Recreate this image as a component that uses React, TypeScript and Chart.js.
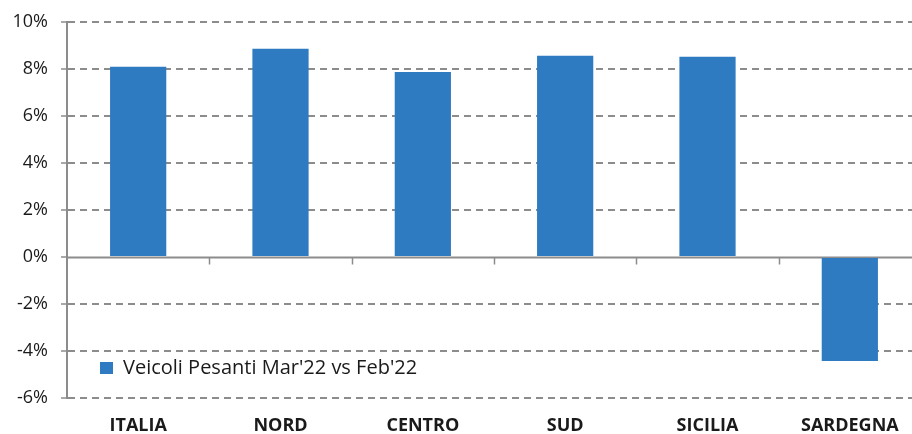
import React, { useEffect, useRef } from "react";
import { Chart, registerables } from "chart.js";

Chart.register(...registerables);

const categories = ["ITALIA", "NORD", "CENTRO", "SUD", "SICILIA", "SARDEGNA"];
const seriesLabel = "Veicoli Pesanti Mar'22 vs Feb'22";
const seriesValues = [8.1, 8.86, 7.87, 8.56, 8.52, -4.43];
const yMin = -6;
const yMax = 10;
const yStep = 2;

const BAR = "#2F7BC1";
const GRID = "#8C8C8C";
const TEXT = "#1a1a1a";
const FONT = "'Open Sans', 'Noto Sans', sans-serif";

const zeroLinePlugin = {
  id: "zeroLine",
  beforeDatasetsDraw(chart: any) {
    const { ctx, scales, chartArea } = chart;
    const y = Math.round(scales.y.getPixelForValue(0)) + 0.5;
    ctx.save();
    ctx.strokeStyle = GRID;
    ctx.lineWidth = 2;
    ctx.beginPath();
    ctx.moveTo(chartArea.left, y);
    ctx.lineTo(chartArea.right, y);
    ctx.stroke();
    const n = categories.length;
    const w = (chartArea.right - chartArea.left) / n;
    ctx.lineWidth = 1.5;
    for (let i = 1; i < n; i++) {
      const x = Math.round(chartArea.left + w * i) + 0.5;
      ctx.beginPath();
      ctx.moveTo(x, y);
      ctx.lineTo(x, y + 7);
      ctx.stroke();
    }
    ctx.restore();
  },
};

const legendPlugin = {
  id: "insideLegend",
  afterDraw(chart: any) {
    const { ctx } = chart;
    ctx.save();
    ctx.fillStyle = BAR;
    ctx.fillRect(100, 362, 13, 12);
    ctx.fillStyle = TEXT;
    ctx.font = `20px ${FONT}`;
    ctx.textBaseline = "middle";
    ctx.textAlign = "left";
    ctx.fillText(chart.data.datasets[0].label, 123, 368);
    ctx.restore();
  },
};

export default function App() {
  const ref = useRef<HTMLCanvasElement>(null);
  useEffect(() => {
    if (!ref.current) return;
    const chart = new Chart(ref.current, {
      type: "bar",
      data: {
        labels: categories,
        datasets: [
          {
            label: seriesLabel,
            data: seriesValues,
            backgroundColor: BAR,
            categoryPercentage: 1,
            barPercentage: 0.395,
          },
        ],
      },
      options: {
        animation: false,
        responsive: false,
        maintainAspectRatio: false,
        layout: { padding: { top: 0, right: 1, left: 0, bottom: 0 } },
        plugins: { legend: { display: false }, tooltip: { enabled: false } },
        scales: {
          x: {
            grid: { display: false, drawTicks: false },
            border: { display: false },
            ticks: {
              color: TEXT,
              font: { family: FONT, size: 18, weight: "bold" },
              padding: 17,
              maxRotation: 0,
            },
            afterFit(scale: any) {
              scale.height = 36;
            },
          },
          y: {
            min: yMin,
            max: yMax,
            grid: {
              color: (c: any) => (c.tick && c.tick.value === 0 ? "rgba(0,0,0,0)" : GRID),
              lineWidth: 2,
              tickLength: 6,
              tickColor: GRID,
              tickWidth: 1.5,
            },
            border: { display: true, color: GRID, width: 2, dash: [7, 5] },
            ticks: {
              stepSize: yStep,
              color: TEXT,
              padding: 13,
              font: { family: FONT, size: 18, lineHeight: 1 },
              callback: (v: any) => `${v}%`,
            },
            afterFit(scale: any) {
              scale.width = 67;
            },
          },
        },
      },
      plugins: [zeroLinePlugin, legendPlugin],
    } as any);
    return () => chart.destroy();
  }, []);
  return (
    <div style={{ position: "absolute", left: 0, top: 0, width: 912, height: 434, overflow: "hidden" }}>
      <canvas ref={ref} width={922} height={434} style={{ display: "block" }} />
    </div>
  );
}
